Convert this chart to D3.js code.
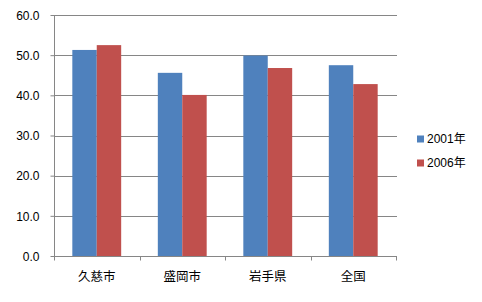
<!DOCTYPE html>
<html><head><meta charset="utf-8">
<script src="https://cdn.jsdelivr.net/npm/d3@7"></script>
<style>
html,body{margin:0;padding:0;background:#fff;}
svg text{font-family:"Liberation Sans","Noto Sans CJK JP",sans-serif;fill:#000;}
</style></head>
<body><svg id="c" width="482" height="302"></svg>
<script>
const categories = ["久慈市","盛岡市","岩手県","全国"];
const seriesNames = ["2001年","2006年"];
const values2001 = [51.3, 45.6, 49.9, 47.5];
const values2006 = [52.5, 40.1, 46.8, 42.8];
const yTicks = [0,10,20,30,40,50,60];
const colors = ["#4F81BD","#C0504D"];

(function(){
const svg = d3.select("#c");
const pL = 54, pR = 396, pT = 15, pB = 256;
const x = d3.scaleBand().domain(categories).range([pL,pR]).paddingInner(0).paddingOuter(0);
const y = d3.scaleLinear().domain([0,60]).range([pB,pT]);
const data = categories.map((c,i)=>({c, v:[values2001[i], values2006[i]]}));

// gridlines
svg.append("g").selectAll("line").data(yTicks.filter(t=>t>0)).join("line")
  .attr("x1",pL).attr("x2",pR+1)
  .attr("y1",d=>Math.round(y(d))+0.5).attr("y2",d=>Math.round(y(d))+0.5)
  .attr("stroke","#868686").attr("stroke-width",1);

// bars
const bw = x.bandwidth()/3.5;
const inner = d3.scaleBand().domain([0,1]).range([0,2*bw]);
const g = svg.append("g");
data.forEach(d=>{
  d.v.forEach((v,j)=>{
    g.append("rect")
      .attr("x", x(d.c) + 0.75*bw + inner(j))
      .attr("width", inner.bandwidth())
      .attr("y", y(v)).attr("height", y(0)-y(v))
      .attr("fill", colors[j]);
  });
});

// y axis
const ya = svg.append("g").attr("transform",`translate(${pL+0.5},0)`)
  .call(d3.axisLeft(y).tickValues(yTicks).tickFormat(d3.format(".1f")).tickSize(4).tickPadding(11));
ya.select(".domain").attr("stroke","#868686").attr("d",`M0,${pT}V${pB}`);
ya.selectAll(".tick line").attr("stroke","#868686");
ya.selectAll(".tick text").attr("font-size","12px").attr("dy","0.35em");

// x axis
const xa = svg.append("g").attr("transform",`translate(0,${pB+0.5})`);
xa.append("line").attr("x1",pL).attr("x2",pR+1).attr("stroke","#868686");
const bounds = [pL, ...categories.map(c=>x(c)+x.bandwidth())];
xa.selectAll("line.t").data(bounds).join("line").attr("class","t")
  .attr("x1",d=>Math.round(d)+0.5).attr("x2",d=>Math.round(d)+0.5)
  .attr("y1",0).attr("y2",4).attr("stroke","#868686");
xa.selectAll("text").data(categories).join("text")
  .attr("x",d=>x(d)+x.bandwidth()/2).attr("y",20)
  .attr("text-anchor","middle").attr("font-size","12.5px")
  .attr("dy","0.35em").text(d=>d);

// legend
const lg = svg.append("g");
seriesNames.forEach((s,i)=>{
  const cy = 139 + i*24;
  lg.append("rect").attr("x",417).attr("y",cy-3.5).attr("width",7).attr("height",7).attr("fill",colors[i]);
  lg.append("text").attr("x",427).attr("y",cy).attr("dy","0.35em").attr("font-size","12px").text(s);
});
})();
</script></body></html>
